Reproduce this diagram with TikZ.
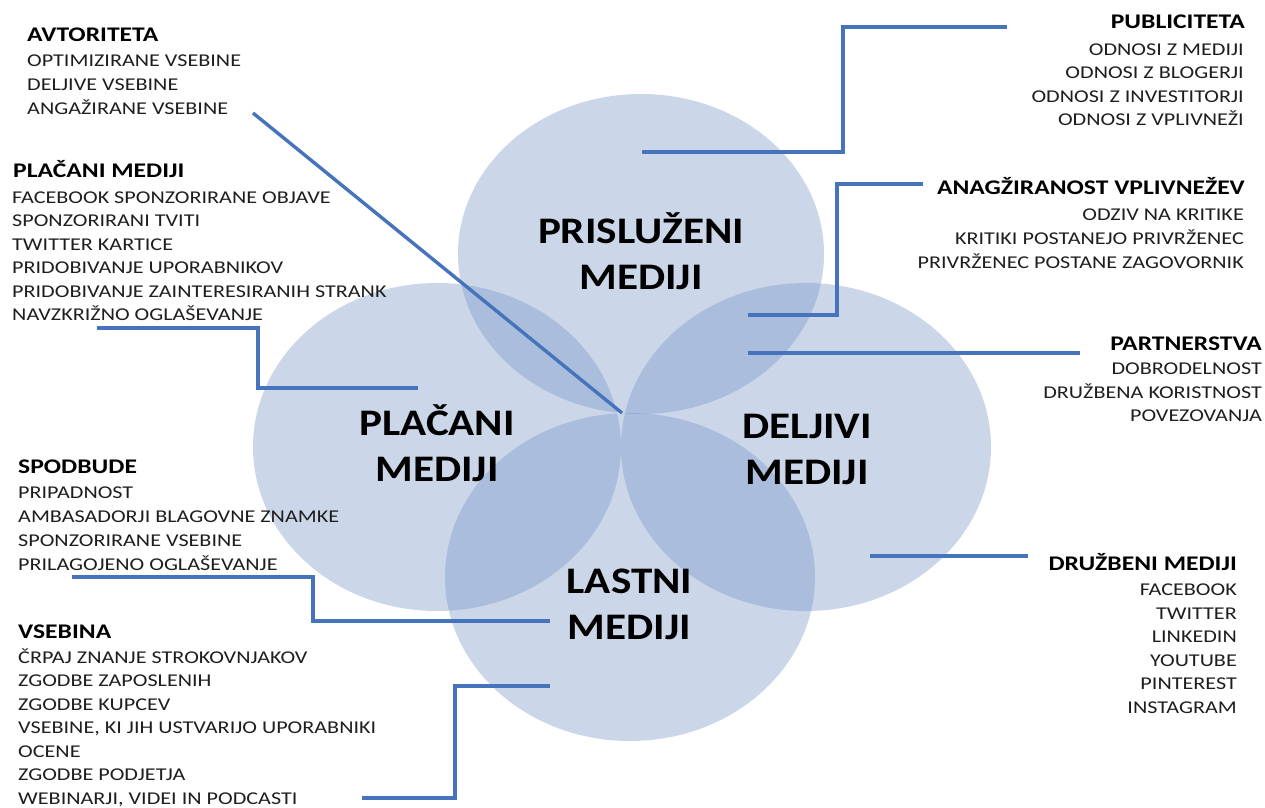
\documentclass[tikz,border=0pt]{standalone}
\usepackage{fontspec}
\setmainfont[FakeStretch=1.23]{Carlito}
\newfontfamily\bigfont[FakeStretch=1.15]{Carlito}
\definecolor{cfill}{RGB}{115,147,198}
\definecolor{cline}{RGB}{70,116,188}
\definecolor{ctext}{RGB}{30,30,30}
\begin{document}
\begin{tikzpicture}[x=1pt,y=-1pt,
  venn/.style={fill=cfill, fill opacity=0.37, draw=none},
  conn/.style={draw=cline, line width=3.4pt},
  head/.style={inner sep=0pt, font=\fontsize{20.8}{23.5}\selectfont\bfseries, text=black},
  items/.style={inner sep=0pt, font=\fontsize{18}{23.5}\selectfont, text=ctext},
  itemsw/.style={items, font=\fontsize{18}{24}\selectfont},
  big/.style={inner sep=0pt, font=\bigfont\fontsize{37.5}{46}\selectfont\bfseries, text=black, align=center}]
\useasboundingbox (0,0) rectangle (1265,807);
\fill[white] (0,0) rectangle (1265,807);

% circles
\path[venn] (641,254) ellipse [x radius=183pt, y radius=160pt];
\path[venn] (437,447) ellipse [x radius=184pt, y radius=164pt];
\path[venn] (806,447) ellipse [x radius=185pt, y radius=164pt];
\path[venn] (630,577) ellipse [x radius=185pt, y radius=164pt];

% big labels
\node[big, anchor=north] (prisl) at (641,205.5) {\rule{0pt}{1em}PRISLUŽENI\\MEDIJI};
\node[big, anchor=north] (plac) at (437,397.5) {\rule{0pt}{1em}PLAČANI\\MEDIJI};
\node[big, anchor=north] (delj) at (807,400.5) {\rule{0pt}{1em}DELJIVI\\MEDIJI};
\node[big, anchor=north] (last) at (629.5,555.5) {\rule{0pt}{1em}LASTNI\\MEDIJI};

% left texts
\node[head, anchor=base west] (avtH) at (27,41) {AVTORITETA};
\node[itemsw, anchor=north west, align=left] (avtI) at (27,48.5) {\rule{0pt}{18pt}OPTIMIZIRANE VSEBINE\\DELJIVE VSEBINE\\ANGAŽIRANE VSEBINE};
\node[head, anchor=base west] (plaH) at (13,177.5) {PLAČANI MEDIJI};
\node[items, anchor=north west, align=left] (plaI) at (12,185) {\rule{0pt}{18pt}FACEBOOK SPONZORIRANE OBJAVE\\SPONZORIRANI TVITI\\TWITTER KARTICE\\PRIDOBIVANJE UPORABNIKOV\\PRIDOBIVANJE ZAINTERESIRANIH STRANK\\NAVZKRIŽNO OGLAŠEVANJE};
\node[head, anchor=base west] (spoH) at (18,473) {SPODBUDE};
\node[itemsw, anchor=north west, align=left] (spoI) at (18,480.5) {\rule{0pt}{18pt}PRIPADNOST\\AMBASADORJI BLAGOVNE ZNAMKE\\SPONZORIRANE VSEBINE\\PRILAGOJENO OGLAŠEVANJE};
\node[head, anchor=base west] (vseH) at (18,638.5) {VSEBINA};
\node[items, anchor=north west, align=left] (vseI) at (18,645) {\rule{0pt}{18pt}ČRPAJ ZNANJE STROKOVNJAKOV\\ZGODBE ZAPOSLENIH\\ZGODBE KUPCEV\\VSEBINE, KI JIH USTVARIJO UPORABNIKI\\OCENE\\ZGODBE PODJETJA\\WEBINARJI, VIDEI IN PODCASTI};

% right texts
\node[head, anchor=base east] (pubH) at (1245,28.5) {PUBLICITETA};
\node[items, anchor=north east, align=right] (pubI) at (1244,37) {\rule{0pt}{18pt}ODNOSI Z MEDIJI\\ODNOSI Z BLOGERJI\\ODNOSI Z INVESTITORJI\\ODNOSI Z VPLIVNEŽI};
\node[head, anchor=base east] (anaH) at (1245,194) {ANAGŽIRANOST VPLIVNEŽEV};
\node[itemsw, anchor=north east, align=right] (anaI) at (1244,202) {\rule{0pt}{18pt}ODZIV NA KRITIKE\\KRITIKI POSTANEJO PRIVRŽENEC\\PRIVRŽENEC POSTANE ZAGOVORNIK};
\node[head, anchor=base east] (parH) at (1262,350) {PARTNERSTVA};
\node[items, anchor=north east, align=right] (parI) at (1262,356.5) {\rule{0pt}{18pt}DOBRODELNOST\\DRUŽBENA KORISTNOST\\POVEZOVANJA};
\node[head, anchor=base east] (druH) at (1237,570) {DRUŽBENI MEDIJI};
\node[items, anchor=north east, align=right] (druI) at (1237,577.5) {\rule{0pt}{18pt}FACEBOOK\\TWITTER\\LINKEDIN\\YOUTUBE\\PINTEREST\\INSTAGRAM};

% connector end points
\coordinate (ctr) at (622,413);
\coordinate (avtS) at (253,113);
\coordinate (plaS) at (97,328);   \coordinate (plaE) at (418,388);
\coordinate (spoS) at (72,577);   \coordinate (spoE) at (550,621);
\coordinate (vseS) at (362,798);  \coordinate (vseE) at (550,686);
\coordinate (pubS) at (1007,27);  \coordinate (pubE) at (642,152);
\coordinate (anaS) at (923,184);  \coordinate (anaE) at (748,315);
\coordinate (parS) at (1080,353); \coordinate (parE) at (748,353);
\coordinate (druS) at (1028,556); \coordinate (druE) at (870,556);

\draw[conn] (avtS) -- (ctr);
\draw[conn] (plaS) -| (258,388) -- (plaE);
\draw[conn] (spoS) -| (313,621) -- (spoE);
\draw[conn] (vseS) -| (455,686) -- (vseE);
\draw[conn] (pubS) -| (843,152) -- (pubE);
\draw[conn] (anaS) -| (837,315) -- (anaE);
\draw[conn] (parS) -- (parE);
\draw[conn] (druS) -- (druE);
\end{tikzpicture}
\end{document}
